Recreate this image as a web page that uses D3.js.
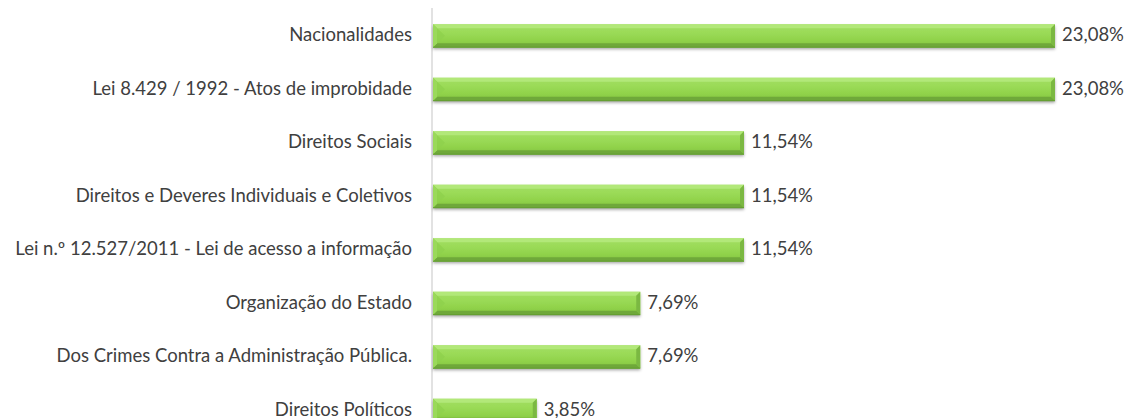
<!DOCTYPE html>
<html>
<head>
<meta charset="utf-8">
<script src="https://cdn.jsdelivr.net/npm/d3@7"></script>
<style>
  html, body { margin: 0; padding: 0; background: #fff; }
  svg text { font-family: Lato, "Open Sans", sans-serif; fill: #404040; }
</style>
</head>
<body>
<svg id="chart" width="1127" height="418"></svg>
<script>
// barras horizontales con biselado tipo excel
var categorias = [
  "Nacionalidades",
  "Lei 8.429 / 1992 - Atos de improbidade",
  "Direitos Sociais",
  "Direitos e Deveres Individuais e Coletivos",
  "Lei n.º 12.527/2011 - Lei de acesso a informação",
  "Organização do Estado",
  "Dos Crimes Contra a Administração Pública.",
  "Direitos Políticos"
];
var valores = [23.08, 23.08, 11.54, 11.54, 11.54, 7.69, 7.69, 3.85];

var svg = d3.select("#chart");
var W = 1127, H = 418;

var x = d3.scaleLinear().domain([0, 23.08]).range([433, 1055]);
var y = d3.scaleBand().domain(categorias).range([9, 437])
  .paddingInner(0.57).paddingOuter(0.285);

var defs = svg.append("defs");
var grad = defs.append("linearGradient").attr("id", "verde")
  .attr("x1", 0).attr("y1", 0).attr("x2", 0).attr("y2", 1);
grad.append("stop").attr("offset", "0%").attr("stop-color", "#a2de62");
grad.append("stop").attr("offset", "35%").attr("stop-color", "#9bdb58");
grad.append("stop").attr("offset", "70%").attr("stop-color", "#90d24a");
grad.append("stop").attr("offset", "100%").attr("stop-color", "#82c23e");

var f = defs.append("filter").attr("id", "sombra")
  .attr("x", "-5%").attr("y", "-30%").attr("width", "110%").attr("height", "180%");
f.append("feDropShadow").attr("dx", 0).attr("dy", 2).attr("stdDeviation", 1.5)
  .attr("flood-color", "#000").attr("flood-opacity", 0.35);

// eje
svg.append("line")
  .attr("x1", 432).attr("x2", 432).attr("y1", 8).attr("y2", H)
  .attr("stroke", "#d9d9d9").attr("stroke-width", 1.5);

var b = 4; // ancho del bisel
var g = svg.append("g").selectAll("g").data(categorias).enter().append("g");

g.each(function (c, i) {
  var s = d3.select(this);
  var x0 = x(0), x1 = x(valores[i]);
  var y0 = y(c), h = y.bandwidth(), y1 = y0 + h;
  s.append("rect").attr("x", x0).attr("y", y0).attr("width", x1 - x0).attr("height", h)
    .attr("fill", "url(#verde)").attr("filter", "url(#sombra)");
  // bisel arriba
  s.append("polygon").attr("points", [[x0, y0], [x1, y0], [x1 - b, y0 + b], [x0 + b, y0 + b]].join(" "))
    .attr("fill", "#b4e97c").attr("opacity", 0.9);
  // bisel abajo
  s.append("polygon").attr("points", [[x0, y1], [x1, y1], [x1 - b, y1 - b], [x0 + b, y1 - b]].join(" "))
    .attr("fill", "#6fa83a");
  // bisel izquierda
  s.append("polygon").attr("points", [[x0, y0], [x0 + b + 8, y0 + h / 2], [x0, y1]].join(" "))
    .attr("fill", "#8fd14c").attr("opacity", 0.8);
  s.append("polygon").attr("points", [[x0, y0], [x0 + b, y0 + b], [x0 + b, y1 - b], [x0, y1]].join(" "))
    .attr("fill", "#9ad95a");
  // bisel derecha
  s.append("polygon").attr("points", [[x1, y0], [x1 - b, y0 + b], [x1 - b, y1 - b], [x1, y1]].join(" "))
    .attr("fill", "#7bb842");
  s.append("line").attr("x1", x0).attr("x2", x1).attr("y1", y1).attr("y2", y1)
    .attr("stroke", "#5f9a2e").attr("stroke-width", 1);
});

// etiquetas categorias
svg.append("g").selectAll("text").data(categorias).enter().append("text")
  .attr("x", 412).attr("y", function (d) { return y(d) + y.bandwidth() / 2 - 1; })
  .attr("dy", "0.35em").attr("text-anchor", "end").attr("font-size", 18.5)
  .text(function (d) { return d; });

// etiquetas valores
var fmt = function (v) { return v.toFixed(2).replace(".", ",") + "%"; };
svg.append("g").selectAll("text").data(valores).enter().append("text")
  .attr("x", function (v) { return x(v) + 7; })
  .attr("y", function (v, i) { return y(categorias[i]) + y.bandwidth() / 2 - 1; })
  .attr("dy", "0.35em").attr("font-size", 18.5)
  .text(fmt);
</script>
</body>
</html>
